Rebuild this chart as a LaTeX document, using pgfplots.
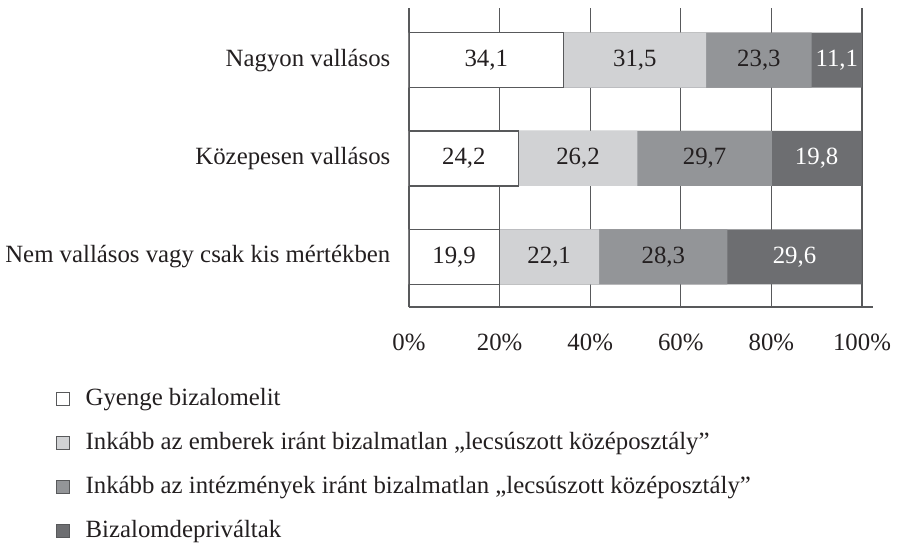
\documentclass[border=0pt]{standalone}
\usepackage{fontspec}
\setmainfont{Liberation Serif}
\usepackage{pgfplots}
\usepackage{pgfplotstable}
\pgfplotsset{compat=1.18}

\definecolor{txt}{HTML}{231F20}
\definecolor{light}{HTML}{D1D2D4}
\definecolor{mid}{HTML}{939598}
\definecolor{dark}{HTML}{6D6E71}
\definecolor{edge}{HTML}{58595B}

% y: 0 = Nem vallasos, 1 = Kozepesen, 2 = Nagyon
\pgfplotstableread{
y a b c d
0 19.9 22.1 28.3 29.6
1 24.2 26.2 29.7 19.8
2 34.1 31.5 23.3 11.1
}\datatable

\pgfplotsset{
  seglabel/.style={
    forget plot, sharp plot, draw=none, mark=none,
    point meta=explicit,
    nodes near coords={\pgfmathprintnumber[fixed,fixed zerofill,precision=1,use comma,assume math mode=true]{\pgfplotspointmeta}},
    every node near coord/.style={anchor=center, text=#1},
  },
}

\begin{document}
\fontsize{12.4}{14}\selectfont
\begin{tikzpicture}
\path[use as bounding box] (-204.5pt,-117.5pt) rectangle (246pt,153.5pt);
\begin{axis}[
    at={(0,0)}, anchor=south west,
    scale only axis,
    width=232pt, height=149.5pt,
    xbar, bar shift=0pt,
    bar width=27.5pt,
    xmin=0, xmax=102.43,
    ymin=-0.51, ymax=2.53,
    axis x line*=bottom,
    axis y line*=left,
    axis line style={edge, line width=0.6pt},
    xtick={0,20,40,60,80,100},
    xticklabels={0\%,20\%,40\%,60\%,80\%,100\%},
    ytick={0,1,2},
    yticklabels={Nem vallásos vagy csak kis mértékben, Közepesen vallásos, Nagyon vallásos},
    major tick length=0pt,
    xticklabel style={yshift=-9pt, text=txt},
    yticklabel style={xshift=-5pt, text=txt},
    xmajorgrids,
    major grid style={edge, line width=0.6pt},
    reverse legend,
    legend cell align=left,
    legend style={at={(-0.774,-0.245)}, anchor=north west, draw=none, fill=none,
      row sep=7.5pt, text=txt,
      nodes={inner xsep=8pt}},
    legend image code/.code={\draw[#1, draw=edge, line width=0.5pt] (0pt,-3.1pt) rectangle (6.2pt,3.1pt);},
]
% segments drawn as overlapping bars, longest first
\addplot[fill=dark, draw=none] table[x expr=\thisrow{a}+\thisrow{b}+\thisrow{c}+\thisrow{d}, y=y]{\datatable};
\addlegendentry{Bizalomdepriváltak}
\addplot[fill=mid, draw=none] table[x expr=\thisrow{a}+\thisrow{b}+\thisrow{c}, y=y]{\datatable};
\addlegendentry{Inkább az intézmények iránt bizalmatlan „lecsúszott középosztály”}
\addplot[fill=light, draw=none] table[x expr=\thisrow{a}+\thisrow{b}, y=y]{\datatable};
\addlegendentry{Inkább az emberek iránt bizalmatlan „lecsúszott középosztály”}
\addplot[fill=white, draw=edge, line width=0.6pt] table[x=a, y=y]{\datatable};
\addlegendentry{Gyenge bizalomelit}

% value labels at segment centres
\addplot[seglabel=txt] table[x expr=\thisrow{a}/2, y=y, meta=a]{\datatable};
\addplot[seglabel=txt] table[x expr=\thisrow{a}+\thisrow{b}/2, y=y, meta=b]{\datatable};
\addplot[seglabel=txt] table[x expr=\thisrow{a}+\thisrow{b}+\thisrow{c}/2, y=y, meta=c]{\datatable};
\addplot[seglabel=white] table[x expr=\thisrow{a}+\thisrow{b}+\thisrow{c}+\thisrow{d}/2, y=y, meta=d]{\datatable};
\end{axis}
\end{tikzpicture}
\end{document}
